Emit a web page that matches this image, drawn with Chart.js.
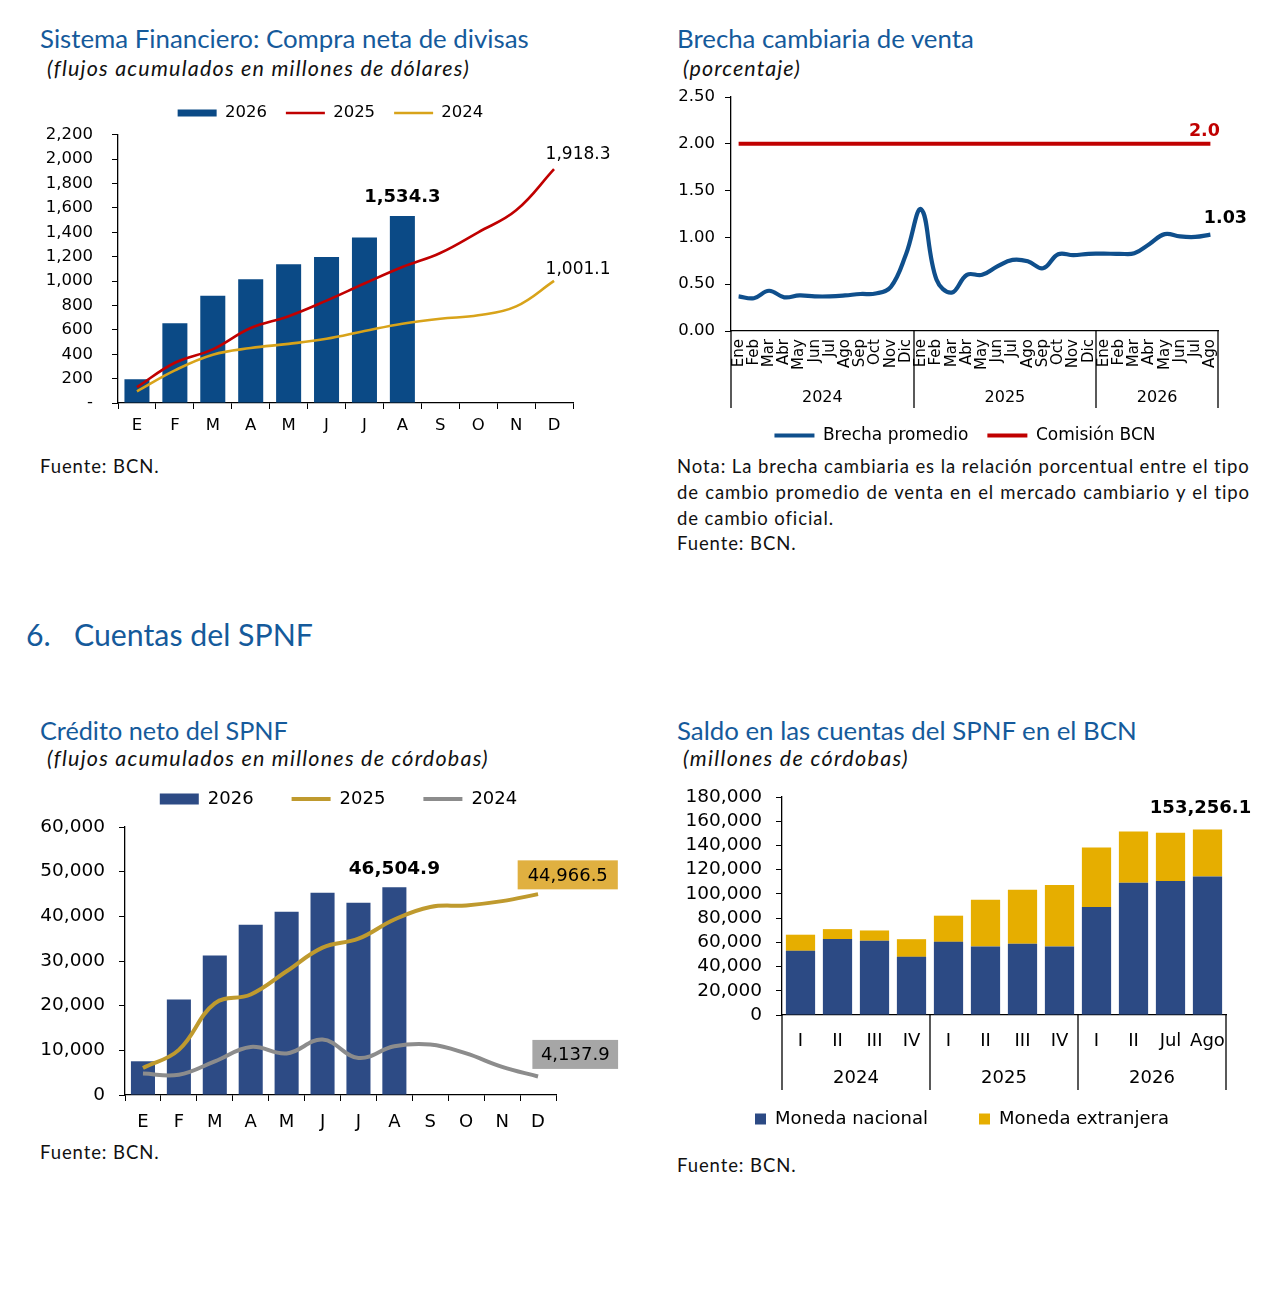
<!DOCTYPE html>
<html lang="es"><head><meta charset="utf-8">
<title>Indicadores</title>
<script src="https://cdn.jsdelivr.net/npm/chart.js@4.4.1/dist/chart.umd.min.js"></script>
<style>
html,body{margin:0;padding:0;background:#fff}
body{width:1274px;height:1302px;position:relative;overflow:hidden}
.tx{position:absolute;left:0;top:0;white-space:nowrap;line-height:1.2;font-family:Lato,"Open Sans",sans-serif;color:#111}
.ti{color:#155a9b;font-size:24px}
.sec{color:#155a9b;font-size:31px}
.su{font-style:italic;font-size:21.5px;font-weight:400}
.no{font-size:18.5px;font-weight:400}
.bl{display:inline-block;width:0;height:0;vertical-align:baseline}
canvas{position:absolute}
</style></head><body>

<div class="tx ti" data-x="40" data-b="48.3" data-w="489">Sistema Financiero: Compra neta de divisas<i class="bl"></i></div>
<div class="tx su" data-x="47" data-b="75.5" data-ls="423">(flujos acumulados en millones de dólares)<i class="bl"></i></div>
<div class="tx ti" data-x="677" data-b="48.3" data-w="297">Brecha cambiaria de venta<i class="bl"></i></div>
<div class="tx su" data-x="683" data-b="75.5" data-ls="118">(porcentaje)<i class="bl"></i></div>

<div class="tx no" data-x="40" data-b="473" data-ref="nota1">Fuente: BCN.<i class="bl"></i></div>
<div class="tx no" id="nota1" data-x="677" data-b="473.3" data-ls="573">Nota: La brecha cambiaria es la relación porcentual entre el tipo<i class="bl"></i></div>
<div class="tx no" data-x="677" data-b="499" data-ref="nota1" data-jw="573">de cambio promedio de venta en el mercado cambiario y el tipo<i class="bl"></i></div>
<div class="tx no" data-x="677" data-b="524.5" data-ref="nota1">de cambio oficial.<i class="bl"></i></div>
<div class="tx no" data-x="677" data-b="550" data-ref="nota1">Fuente: BCN.<i class="bl"></i></div>

<div class="tx sec" data-x="26" data-b="645.7" data-ref="secT">6.<i class="bl"></i></div>
<div class="tx sec" id="secT" data-x="74" data-b="645.7" data-w="239">Cuentas del SPNF<i class="bl"></i></div>

<div class="tx ti" data-x="40" data-b="740" data-w="248">Crédito neto del SPNF<i class="bl"></i></div>
<div class="tx su" data-x="47" data-b="766" data-ls="442">(flujos acumulados en millones de córdobas)<i class="bl"></i></div>
<div class="tx ti" data-x="677" data-b="740" data-w="460">Saldo en las cuentas del SPNF en el BCN<i class="bl"></i></div>
<div class="tx su" data-x="683" data-b="766" data-ls="226">(millones de córdobas)<i class="bl"></i></div>

<div class="tx no" data-x="40" data-b="1158.5" data-ref="nota1">Fuente: BCN.<i class="bl"></i></div>
<div class="tx no" data-x="677" data-b="1171.5" data-ref="nota1">Fuente: BCN.<i class="bl"></i></div>

<canvas id="c1" width="589" height="359" style="left:36px;top:84px;width:589px;height:359px"></canvas>
<canvas id="c2" width="590" height="379" style="left:670px;top:75px;width:590px;height:379px"></canvas>
<canvas id="c3" width="600" height="395" style="left:30px;top:750px;width:600px;height:395px"></canvas>
<canvas id="c4" width="590" height="367" style="left:670px;top:771px;width:590px;height:367px"></canvas>

<script>
// ---------------- DATA ----------------
// Chart 1: Sistema Financiero, compra neta de divisas (millones de dólares)
const mesesCortos = ['E','F','M','A','M','J','J','A','S','O','N','D'];
const compra2026 = [195, 655, 880, 1015, 1137, 1197, 1357, 1534.3];
const compra2025 = [130, 330, 440, 615, 712, 840, 980, 1115, 1230, 1400, 1580, 1918.3];
const compra2024 = [96, 268, 396, 451, 485, 527, 590, 650, 691, 719, 792, 1001.1];

// Chart 2: Brecha cambiaria de venta (porcentaje)
const mesesBrecha = ['Ene','Feb','Mar','Abr','May','Jun','Jul','Ago','Sep','Oct','Nov','Dic',
                     'Ene','Feb','Mar','Abr','May','Jun','Jul','Ago','Sep','Oct','Nov','Dic',
                     'Ene','Feb','Mar','Abr','May','Jun','Jul','Ago'];
const aniosBrecha = ['2024','2025','2026'];
const mesesPorAnioBrecha = [12, 12, 8];
const brechaPromedio = [0.37, 0.35, 0.43, 0.36, 0.38, 0.37, 0.37, 0.38, 0.395, 0.40, 0.47, 0.82,
                        1.30, 0.55, 0.41, 0.60, 0.60, 0.69, 0.76, 0.745, 0.67, 0.82, 0.81, 0.825,
                        0.826, 0.825, 0.83, 0.93, 1.035, 1.01, 1.005, 1.03];
const comisionBCN = [2.0, 2.0, 2.0, 2.0, 2.0, 2.0, 2.0, 2.0, 2.0, 2.0, 2.0, 2.0,
                     2.0, 2.0, 2.0, 2.0, 2.0, 2.0, 2.0, 2.0, 2.0, 2.0, 2.0, 2.0,
                     2.0, 2.0, 2.0, 2.0, 2.0, 2.0, 2.0, 2.0];

// Chart 3: Crédito neto del SPNF (millones de córdobas)
const credito2026 = [7550, 21400, 31250, 38100, 41050, 45300, 43050, 46504.9];
const credito2025 = [6050, 10100, 20500, 22500, 27700, 33000, 35000, 39300, 42100, 42450, 43400, 44966.5];
const credito2024 = [4800, 4550, 7550, 10750, 9300, 12400, 8300, 10900, 11300, 9300, 6300, 4137.9];

// Chart 4: Saldo en las cuentas del SPNF en el BCN (millones de córdobas)
const periodosSaldo = ['I','II','III','IV','I','II','III','IV','I','II','Jul','Ago'];
const aniosSaldo = ['2024','2025','2026'];
const periodosPorAnioSaldo = [4, 4, 4];
const monedaNacional = [53000, 62700, 61300, 48000, 60400, 56600, 58800, 56600, 89200, 109300, 110700, 114270];
const monedaExtranjera = [13300, 8200, 8500, 14600, 21600, 38600, 44700, 50800, 49100, 42200, 39700, 38986.1];

// ---------------- TEXT LAYOUT ----------------
(function(){
  const els = [...document.querySelectorAll('.tx')];
  const width = e => e.getBoundingClientRect().width;
  els.filter(e => e.dataset.w).forEach(e => {
    const fs = parseFloat(getComputedStyle(e).fontSize);
    e.style.fontSize = (fs * (+e.dataset.w) / width(e)).toFixed(3) + 'px';
  });
  els.filter(e => e.dataset.ls).forEach(e => {
    const n = e.textContent.length;
    e.style.letterSpacing = ((+e.dataset.ls - width(e)) / n).toFixed(3) + 'px';
  });
  els.filter(e => e.dataset.ref).forEach(e => {
    const r = document.getElementById(e.dataset.ref);
    e.style.fontSize = r.style.fontSize || getComputedStyle(r).fontSize;
    if (r.style.letterSpacing) e.style.letterSpacing = r.style.letterSpacing;
  });
  els.filter(e => e.dataset.jw).forEach(e => {
    const n = (e.textContent.match(/ /g) || []).length;
    if (n) e.style.wordSpacing = ((+e.dataset.jw - width(e)) / n).toFixed(3) + 'px';
  });
  els.forEach(e => {
    e.style.left = e.dataset.x + 'px';
    e.style.top = '0px';
    const off = e.querySelector('.bl').getBoundingClientRect().top - e.getBoundingClientRect().top;
    e.style.top = (+e.dataset.b - off) + 'px';
  });
})();

// ---------------- CHART HELPERS ----------------
const FONT = 'DejaVu Sans';
Chart.defaults.font.family = FONT;
Chart.defaults.color = '#000';
const fmt = (v, d) => v.toLocaleString('en-US', {minimumFractionDigits: d, maximumFractionDigits: d});

function legendLabels(chart) {
  const items = Chart.defaults.plugins.legend.labels.generateLabels(chart);
  items.sort((a, b) => a.datasetIndex - b.datasetIndex);
  items.forEach(it => {
    const ds = chart.data.datasets[it.datasetIndex];
    if (ds.legendStyle === 'line') {
      it.pointStyle = 'line'; it.strokeStyle = ds.borderColor; it.lineWidth = ds.legendLineWidth || ds.borderWidth;
    } else {
      it.pointStyle = 'rect'; it.fillStyle = ds.backgroundColor; it.strokeStyle = ds.backgroundColor; it.lineWidth = 0;
    }
  });
  return items;
}

// extra gap below a top legend, and horizontal shift of the legend
const legendAdjust = {
  id: 'legendAdjust',
  afterInit(chart) {
    const lg = chart.legend;
    if (!lg || lg._gapPatched) return;
    const orig = lg.fit;
    lg.fit = function() {
      orig.call(this);
      const o = chart.options.plugins.legendAdjust || {};
      this.height += (o.extra || 0);
    };
    lg._gapPatched = true;
  },
  afterLayout(chart, args, o) {
    const lg = chart.legend;
    if (!lg || !o || !o.dx) return;
    lg.left += o.dx; lg.right += o.dx;
  }
};

const groupAxis = {
  id: 'groupAxis',
  afterDraw(chart, args, o) {
    if (!o || !o.sizes) return;
    const {ctx, chartArea} = chart;
    const xs = chart.scales.x;
    const half = (xs.getPixelForValue(1) - xs.getPixelForValue(0)) / 2;
    ctx.save();
    ctx.strokeStyle = '#000'; ctx.lineWidth = 1.3;
    ctx.fillStyle = '#000'; ctx.font = o.font;
    ctx.textAlign = 'center'; ctx.textBaseline = 'middle';
    let start = 0; const bounds = [];
    o.sizes.forEach((s, gi) => {
      const x0 = xs.getPixelForValue(start) - half;
      const x1 = xs.getPixelForValue(start + s - 1) + half;
      bounds.push(x0, x1);
      ctx.fillText(o.labels[gi], (x0 + x1) / 2, chartArea.bottom + o.labelOffset);
      start += s;
    });
    [...new Set(bounds.map(v => Math.round(v)))].forEach(x => {
      ctx.beginPath();
      ctx.moveTo(x, chartArea.bottom);
      ctx.lineTo(x, chartArea.bottom + o.lineLen);
      ctx.stroke();
    });
    ctx.restore();
  }
};

const valueLabels = {
  id: 'valueLabels',
  afterDatasetsDraw(chart, args, o) {
    const ctx = chart.ctx;
    (o.items || []).forEach(it => {
      const el = chart.getDatasetMeta(it.ds).data[it.idx];
      const x = el.x + (it.dx || 0), y = el.y + (it.dy || 0);
      ctx.save();
      ctx.font = it.font;
      ctx.textAlign = 'center'; ctx.textBaseline = 'middle';
      if (it.box) {
        const w = ctx.measureText(it.text).width + 2 * it.padX;
        ctx.fillStyle = it.box;
        ctx.fillRect(x - w / 2, y - it.h / 2, w, it.h);
      }
      ctx.fillStyle = it.color || '#000';
      ctx.fillText(it.text, x, y + 1);
      ctx.restore();
    });
  }
};

const baseOpts = {responsive: false, animation: false, events: []};

// ---------------- CHART 1 ----------------
new Chart(document.getElementById('c1'), {
  type: 'bar',
  data: {
    labels: mesesCortos,
    datasets: [
      {label: '2026', data: compra2026, backgroundColor: '#0B4A86', barPercentage: 0.66, categoryPercentage: 1, order: 3, legendStyle: 'rect'},
      {type: 'line', label: '2025', data: compra2025, borderColor: '#C00000', backgroundColor: '#C00000', borderWidth: 2.6, pointRadius: 0, tension: 0.4, order: 1, legendStyle: 'line'},
      {type: 'line', label: '2024', data: compra2024, borderColor: '#D8A31A', backgroundColor: '#D8A31A', borderWidth: 2.6, pointRadius: 0, tension: 0.4, order: 2, legendStyle: 'line'}
    ]
  },
  plugins: [legendAdjust, valueLabels],
  options: Object.assign({}, baseOpts, {
    layout: {padding: {top: 1.75, left: 0, right: 52, bottom: 0}},
    plugins: {
      tooltip: {enabled: false},
      legend: {position: 'top', labels: {usePointStyle: true, pointStyleWidth: 39, boxHeight: 7, padding: 19, color: '#000', font: {size: 16.5}, generateLabels: legendLabels}},
      legendAdjust: {extra: 3.5, dx: 26},
      valueLabels: {items: [
        {ds: 0, idx: 7, text: fmt(compra2026[7], 1), dx: 0, dy: -20, font: 'bold 18px "DejaVu Sans"'},
        {ds: 1, idx: 11, text: fmt(compra2025[11], 1), dx: 24, dy: -15.5, font: '17px "DejaVu Sans"'},
        {ds: 2, idx: 11, text: fmt(compra2024[11], 1), dx: 24, dy: -12, font: '17px "DejaVu Sans"'}
      ]}
    },
    scales: {
      x: {offset: true,
          grid: {display: true, offset: true, drawOnChartArea: false, drawTicks: true, tickLength: 6, color: '#000'},
          border: {display: true, color: '#000', width: 1.3},
          ticks: {font: {size: 16.5}, padding: 7, color: '#000', maxRotation: 0, autoSkip: false},
          afterFit: s => { s.height = 40; }},
      y: {min: 0, max: 2200,
          grid: {drawOnChartArea: false, drawTicks: true, tickLength: 6, color: '#000'},
          border: {display: true, color: '#000', width: 1.3},
          ticks: {stepSize: 200, autoSkip: false, font: {size: 16.5}, padding: 19, color: '#000', callback: v => v === 0 ? '-' : fmt(v, 0)},
          afterFit: s => { s.width = 82; }}
    }
  })
});

// ---------------- CHART 2 ----------------
new Chart(document.getElementById('c2'), {
  type: 'line',
  data: {
    labels: mesesBrecha,
    datasets: [
      {label: 'Brecha promedio', data: brechaPromedio, borderColor: '#0F4F8C', backgroundColor: '#0F4F8C', borderWidth: 4.2, pointRadius: 0, tension: 0.4, legendStyle: 'line'},
      {label: 'Comisión BCN', data: comisionBCN, borderColor: '#C00000', backgroundColor: '#C00000', borderWidth: 4, pointRadius: 0, tension: 0, legendStyle: 'line'}
    ]
  },
  plugins: [legendAdjust, groupAxis, valueLabels],
  options: Object.assign({}, baseOpts, {
    layout: {padding: {top: 22, left: 0, right: 42, bottom: 0}},
    plugins: {
      tooltip: {enabled: false},
      legend: {position: 'bottom', labels: {usePointStyle: true, pointStyleWidth: 40, boxHeight: 8, padding: 19, color: '#000', font: {size: 17}, generateLabels: legendLabels}},
      legendAdjust: {extra: 0, dx: 21},
      groupAxis: {labels: aniosBrecha, sizes: mesesPorAnioBrecha, labelOffset: 67, lineLen: 77, font: '16px "DejaVu Sans"'},
      valueLabels: {items: [
        {ds: 1, idx: 31, text: fmt(comisionBCN[31], 1), dx: -6, dy: -13, font: 'bold 17.5px "DejaVu Sans"', color: '#C00000'},
        {ds: 0, idx: 31, text: fmt(brechaPromedio[31], 2), dx: 15, dy: -17.6, font: 'bold 17.5px "DejaVu Sans"'}
      ]}
    },
    scales: {
      x: {offset: true,
          grid: {display: false, drawTicks: false},
          border: {display: true, color: '#000', width: 1.3},
          ticks: {font: {size: 15}, padding: 8, color: '#000', minRotation: 90, maxRotation: 90, autoSkip: false},
          afterFit: s => { s.height = 77; }},
      y: {min: 0, max: 2.5,
          grid: {drawOnChartArea: false, drawTicks: true, tickLength: 6, color: '#000'},
          border: {display: true, color: '#000', width: 1.3},
          ticks: {stepSize: 0.5, autoSkip: false, font: {size: 16.5}, padding: 10, color: '#000', callback: v => v.toFixed(2)},
          afterFit: s => { s.width = 61; }}
    }
  })
});

// ---------------- CHART 3 ----------------
new Chart(document.getElementById('c3'), {
  type: 'bar',
  data: {
    labels: mesesCortos,
    datasets: [
      {label: '2026', data: credito2026, backgroundColor: '#2D4B85', barPercentage: 0.67, categoryPercentage: 1, order: 3, legendStyle: 'rect'},
      {type: 'line', label: '2025', data: credito2025, borderColor: '#BF9A2E', backgroundColor: '#BF9A2E', borderWidth: 4, pointRadius: 0, tension: 0.4, order: 1, legendStyle: 'line'},
      {type: 'line', label: '2024', data: credito2024, borderColor: '#8C8C8C', backgroundColor: '#8C8C8C', borderWidth: 4, pointRadius: 0, tension: 0.4, order: 2, legendStyle: 'line'}
    ]
  },
  plugins: [legendAdjust, valueLabels],
  options: Object.assign({}, baseOpts, {
    layout: {padding: {top: 2, left: 0, right: 74, bottom: 0}},
    plugins: {
      tooltip: {enabled: false},
      legend: {position: 'top', labels: {usePointStyle: true, pointStyleWidth: 39, boxHeight: 11, padding: 38, color: '#000', font: {size: 18}, generateLabels: legendLabels}},
      legendAdjust: {extra: 9, dx: 45.5},
      valueLabels: {items: [
        {ds: 0, idx: 7, text: fmt(credito2026[7], 1), dx: 0, dy: -19, font: 'bold 18.5px "DejaVu Sans"'},
        {ds: 1, idx: 11, text: fmt(credito2025[11], 1), dx: 29.7, dy: -19.3, font: '18px "DejaVu Sans"', box: '#E0B040', padX: 10, h: 29},
        {ds: 2, idx: 11, text: fmt(credito2024[11], 1), dx: 37.2, dy: -22.1, font: '18px "DejaVu Sans"', box: '#A6A6A6', padX: 8.5, h: 29}
      ]}
    },
    scales: {
      x: {offset: true,
          grid: {display: true, offset: true, drawOnChartArea: false, drawTicks: true, tickLength: 6, color: '#000'},
          border: {display: true, color: '#000', width: 1.3},
          ticks: {font: {size: 18}, padding: 10.2, color: '#000', maxRotation: 0, autoSkip: false},
          afterFit: s => { s.height = 50; }},
      y: {min: 0, max: 60000,
          grid: {drawOnChartArea: false, drawTicks: true, tickLength: 6, color: '#000'},
          border: {display: true, color: '#000', width: 1.3},
          ticks: {stepSize: 10000, autoSkip: false, font: {size: 18.5}, padding: 14, color: '#000', callback: v => fmt(v, 0)},
          afterFit: s => { s.width = 95; }}
    }
  })
});

// ---------------- CHART 4 ----------------
new Chart(document.getElementById('c4'), {
  type: 'bar',
  data: {
    labels: periodosSaldo,
    datasets: [
      {label: 'Moneda nacional', data: monedaNacional, backgroundColor: '#2C4A84', barPercentage: 0.79, categoryPercentage: 1},
      {label: 'Moneda extranjera', data: monedaExtranjera, backgroundColor: '#E6AE00', barPercentage: 0.79, categoryPercentage: 1}
    ]
  },
  plugins: [legendAdjust, groupAxis, valueLabels],
  options: Object.assign({}, baseOpts, {
    layout: {padding: {top: 26, left: 0, right: 34, bottom: 0}},
    plugins: {
      tooltip: {enabled: false},
      legend: {position: 'bottom', labels: {boxWidth: 11, boxHeight: 11, padding: 51, color: '#000', font: {size: 18}}},
      legendAdjust: {extra: 0, dx: 14},
      groupAxis: {labels: aniosSaldo, sizes: periodosPorAnioSaldo, labelOffset: 63.3, lineLen: 75, font: '18px "DejaVu Sans"'},
      valueLabels: {items: [
        {ds: 1, idx: 11, text: fmt(monedaNacional[11] + monedaExtranjera[11], 1), dx: -7, dy: -22, font: 'bold 18px "DejaVu Sans"'}
      ]}
    },
    scales: {
      x: {stacked: true, offset: true,
          grid: {display: false, drawTicks: false},
          border: {display: true, color: '#000', width: 1.3},
          ticks: {font: {size: 18}, padding: 16, color: '#000', maxRotation: 0, autoSkip: false},
          afterFit: s => { s.height = 44; }},
      y: {stacked: true, min: 0, max: 180000,
          grid: {drawOnChartArea: false, drawTicks: true, tickLength: 6, color: '#000'},
          border: {display: true, color: '#000', width: 1.3},
          ticks: {stepSize: 20000, autoSkip: false, font: {size: 18.5}, padding: 14, color: '#000', callback: v => fmt(v, 0)},
          afterFit: s => { s.width = 112; }}
    }
  })
});
</script>
</body></html>
